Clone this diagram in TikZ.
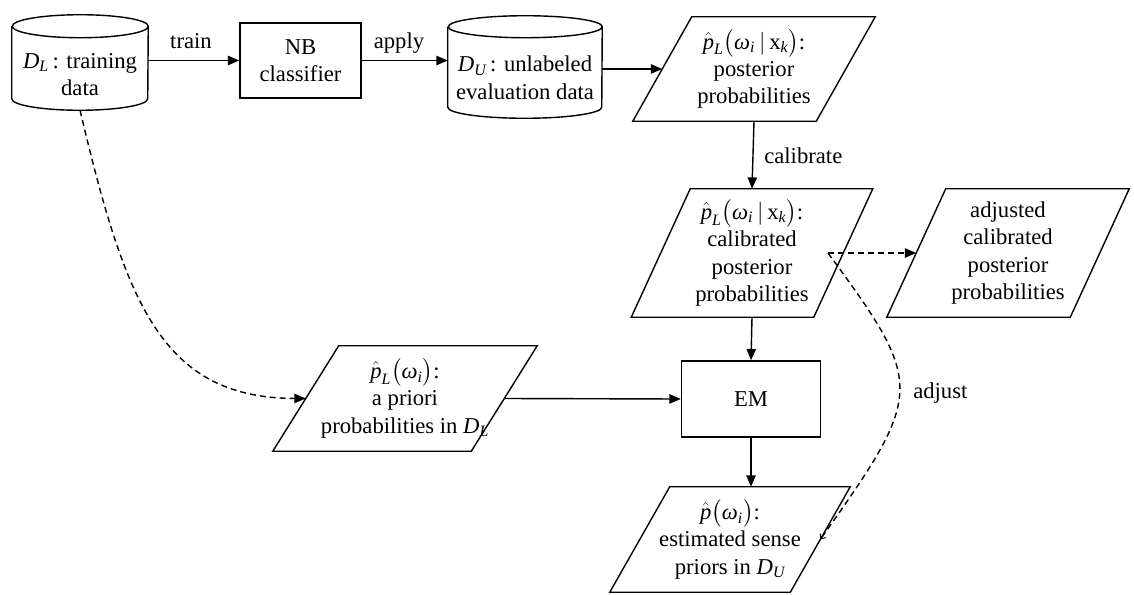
\documentclass[tikz,border=0pt]{standalone}
\usepackage{amsmath}
\usepackage{fontspec}
\setmainfont{Liberation Serif}
\usetikzlibrary{arrows.meta,calc}

% italic letters taken from the text font inside formulas
\newcommand{\vi}[1]{\text{\itshape #1}}
\newcommand{\DLset}{$\vi{D}_{\vi{L}}$}
\newcommand{\DUset}{$\vi{D}_{\vi{U}}$}
\newcommand{\phatL}{\hat{\vi{p}}_{\vi{L}}}
\newcommand{\postL}{$\phatL\bigl(\vi{ω}_{\vi{i}}\,|\,\text{x}_{\vi{k}}\bigr)$:}

% parallelogram outline around a node whose west/east anchors sit on the slanted sides
\newcommand{\slantbox}[2]{%
  \draw[outline] ($(#1.north west)+(#2/2,0)$) -- ($(#1.north east)+(#2/2,0)$)
    -- ($(#1.south east)-(#2/2,0)$) -- ($(#1.south west)-(#2/2,0)$) -- cycle;}
% drum (database) outline around a node
\newcommand{\drum}[3]{%
  \draw[outline] ($(#1.north west)+(0,#3)$) -- ($(#1.south west)-(0,#3)$)
    arc[start angle=180,end angle=0,x radius=#2,y radius=#3]
    -- ($(#1.north east)+(0,#3)$)
    arc[start angle=0,end angle=-360,x radius=#2,y radius=#3];}

\def\pxu{*0.75pt}

\tikzset{
  txt/.style={font=\fontsize{17pt}{20.5pt}\selectfont, align=center, inner sep=0pt},
  outline/.style={line width=1.05pt, line join=miter},
  hold/.style={rectangle, inner sep=0pt, minimum width=#1},
  blk/.style={txt, draw, line width=1.05pt, rectangle},
  conn/.style={line width=1.05pt, -{Triangle[length=8.5pt,width=7pt]}},
  dconn/.style={conn, dash pattern=on 4.5pt off 3pt},
}

\begin{document}
\begin{tikzpicture}[x=0.75pt,y=-0.75pt]
  \useasboundingbox (0,0) rectangle (1134,595);

  % data stores
  \node[hold=136\pxu, minimum height=95\pxu,
        label={[txt,yshift=-9pt]center:{\DLset\,: training\\data}}] (dl) at (80,62.5) {};
  \drum{dl}{68}{11.5}
  \node[hold=154\pxu, minimum height=102\pxu,
        label={[txt,yshift=-8pt]center:{\DUset\,: unlabeled\\evaluation data}}] (du) at (525,67) {};
  \drum{du}{77}{11}

  % processing blocks
  \node[blk, minimum width=121\pxu, minimum height=75\pxu] (nb) at (300.5,60.5) {NB\\classifier};
  \node[blk, minimum width=139\pxu, minimum height=76\pxu] (em) at (751,399) {EM};

  % probability sets
  \node[txt, hold=183\pxu, minimum height=104\pxu] (post) at (754,69)
       {\postL\\posterior\\probabilities};
  \slantbox{post}{59}
  \node[txt, hold=182\pxu, minimum height=128\pxu] (cal) at (752,253)
       {\postL\\calibrated\\posterior\\probabilities};
  \slantbox{cal}{59}
  \node[txt, hold=183\pxu, minimum height=128\pxu] (adj) at (1008,253)
       {adjusted\\calibrated\\posterior\\probabilities};
  \slantbox{adj}{59}
  \node[txt, hold=198\pxu, minimum height=105\pxu] (apri) at (405,398.5)
       {$\phatL\bigl(\vi{ω}_{\vi{i}}\bigr)$:\\a priori\\probabilities in \DLset};
  \slantbox{apri}{66}
  \node[txt, hold=180\pxu, minimum height=105\pxu] (est) at (730,539.5)
       {$\hat{\vi{p}}\bigl(\vi{ω}_{\vi{i}}\bigr)$:\\estimated sense\\priors in \DUset};
  \slantbox{est}{60}

  % solid flow
  \draw[conn] (nb.west -| dl.east) -- (nb.west);
  \draw[conn] (nb.east) -- (nb.east -| du.west);
  \draw[conn] (du.east |- post.west) -- (post.west);
  \draw[conn] (post.south) -- (cal.north);
  \draw[conn] (cal.south) -- (em.north);
  \draw[conn] (em.south) -- (em.south |- est.north);
  \draw[conn] (apri.east) -- (em.west);

  \node[txt, anchor=base] (ltrain) at (191,49) {train};
  \node[txt, anchor=base] (lapply) at (399,49) {apply};
  \node[txt, anchor=base west] (lcal) at (764,164) {calibrate};
  \node[txt, anchor=base west] (ladj) at (913,398) {adjust};

  % dashed relations
  \draw[dconn] (dl.south) .. controls (125,300) and (160,398) .. (apri.west);
  \coordinate (bend) at (828,253);
  \draw[dconn] (bend) -- (adj.west);
  \draw[line width=1.05pt, dash pattern=on 4.5pt off 3pt,
        -{Straight Barb[length=3pt,width=5pt,line width=0.7pt]}]
    (bend) .. controls (925,385) and (925,392) .. (est.east);
\end{tikzpicture}
\end{document}
